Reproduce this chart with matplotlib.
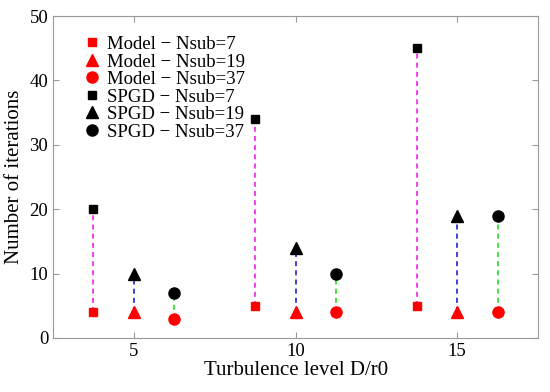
import matplotlib
matplotlib.use("Agg")
import matplotlib.pyplot as plt

plt.rcParams['font.family'] = ['Liberation Serif', 'DejaVu Serif']

levels = [5, 10, 15]
offsets = {"7": -1.25, "19": 0.0, "37": 1.25}
model_n7 = [4, 5, 5]
model_n19 = [4, 4, 4]
model_n37 = [3, 4, 4]
spgd_n7 = [20, 34, 45]
spgd_n19 = [10, 14, 19]
spgd_n37 = [7, 10, 19]

fig = plt.figure(figsize=(5.5, 3.92), dpi=100)
ax = fig.add_axes([0.0964, 0.138, 0.882, 0.821])

series = [
    ("7", model_n7, spgd_n7, 's', '#ee22ee', 6.3),
    ("19", model_n19, spgd_n19, '^', '#2222cc', 8),
    ("37", model_n37, spgd_n37, 'o', '#22dd22', 8),
]
for key, m, s, mk, lc, ms in series:
    xs = [l + offsets[key] for l in levels]
    for x, a, b in zip(xs, m, s):
        ax.plot([x, x], [a, b], linestyle=(0, (3, 2.5)), color=lc, lw=1.2, zorder=1)

handles = []
for key, m, s, mk, lc, ms in series:
    xs = [l + offsets[key] for l in levels]
    h, = ax.plot(xs, m, linestyle='none', marker=mk, color='red', markersize=ms,
                 label=f"Model \u2212 Nsub={key}", zorder=3)
    handles.append(h)
for key, m, s, mk, lc, ms in series:
    xs = [l + offsets[key] for l in levels]
    h, = ax.plot(xs, s, linestyle='none', marker=mk, color='black', markersize=ms,
                 label=f"SPGD \u2212 Nsub={key}", zorder=3)
    handles.append(h)

ax.set_xlim(2.5, 17.5)
ax.set_ylim(0, 50)
ax.set_xticks([5, 10, 15])
ax.set_yticks([0, 10, 20, 30, 40, 50])
ax.tick_params(direction='in', labelsize=13.5, top=True, right=True, length=4, color='#999999')
for sp in ax.spines.values():
    sp.set_color('#999999')
    sp.set_linewidth(0.8)
ax.set_xlabel("Turbulence level D/r0", fontsize=15, labelpad=1)
ax.set_ylabel("Number of iterations", fontsize=15, labelpad=4)

ax.legend(handles=handles, loc='upper left', frameon=False, fontsize=13.5,
          handletextpad=0.3, labelspacing=0.02, borderaxespad=0.4,
          bbox_to_anchor=(0.03, 0.985), handlelength=1.0)

fig.savefig("out.png", dpi=100)
